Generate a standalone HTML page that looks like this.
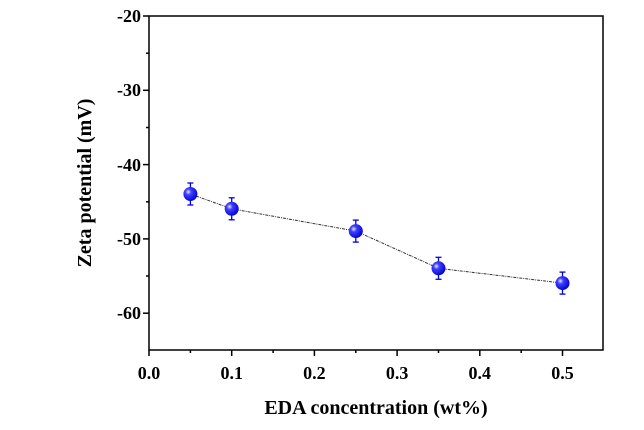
<!DOCTYPE html>
<html><head><style>body{margin:0;background:#fff}svg{display:block}text{font-family:"Liberation Serif",serif;font-weight:bold;fill:#000}</style></head>
<body>
<svg width="644" height="430" viewBox="0 0 644 430">
<defs><radialGradient id="g" cx="0.35" cy="0.35" r="0.7"><stop offset="0" stop-color="#e8e8ff"/><stop offset="0.3" stop-color="#4040ff"/><stop offset="1" stop-color="#0000d0"/></radialGradient></defs>
<rect x="149" y="16" width="454" height="334" fill="none" stroke="#000" stroke-width="1.5"/>
<g stroke="#000" stroke-width="1.5">
<line x1="149" y1="350" x2="149" y2="356"/><line x1="231.7" y1="350" x2="231.7" y2="356"/><line x1="314.4" y1="350" x2="314.4" y2="356"/><line x1="397.1" y1="350" x2="397.1" y2="356"/><line x1="479.8" y1="350" x2="479.8" y2="356"/><line x1="562.5" y1="350" x2="562.5" y2="356"/>
<line x1="190.4" y1="350" x2="190.4" y2="353"/><line x1="273.1" y1="350" x2="273.1" y2="353"/><line x1="355.8" y1="350" x2="355.8" y2="353"/><line x1="438.5" y1="350" x2="438.5" y2="353"/><line x1="521.2" y1="350" x2="521.2" y2="353"/>
<line x1="143" y1="16" x2="149" y2="16"/><line x1="143" y1="90.3" x2="149" y2="90.3"/><line x1="143" y1="164.6" x2="149" y2="164.6"/><line x1="143" y1="238.9" x2="149" y2="238.9"/><line x1="143" y1="313.2" x2="149" y2="313.2"/>
<line x1="146" y1="53.2" x2="149" y2="53.2"/><line x1="146" y1="127.5" x2="149" y2="127.5"/><line x1="146" y1="201.8" x2="149" y2="201.8"/><line x1="146" y1="276" x2="149" y2="276"/>
</g>
<g font-size="18" text-anchor="end">
<text x="141" y="22">-20</text><text x="141" y="96">-30</text><text x="141" y="171">-40</text><text x="141" y="245">-50</text><text x="141" y="319">-60</text>
</g>
<g font-size="18" text-anchor="middle">
<text x="149" y="379">0.0</text><text x="231.7" y="379">0.1</text><text x="314.4" y="379">0.2</text><text x="397.1" y="379">0.3</text><text x="479.8" y="379">0.4</text><text x="562.5" y="379">0.5</text>
</g>
<text x="376" y="414" font-size="20" text-anchor="middle">EDA concentration (wt%)</text>
<text transform="translate(91,183) rotate(-90)" font-size="20" text-anchor="middle">Zeta potential (mV)</text>
<polyline points="190.4,194 231.7,208.8 355.8,231.1 438.5,268.3 562.5,283.1" fill="none" stroke="#333" stroke-width="1" stroke-dasharray="3,1,1,1"/>
<g stroke="#0000e0" stroke-width="1.3">
<line x1="190.4" y1="183" x2="190.4" y2="205"/><line x1="187.4" y1="183" x2="193.4" y2="183"/><line x1="187.4" y1="205" x2="193.4" y2="205"/>
<line x1="231.7" y1="197.8" x2="231.7" y2="219.8"/><line x1="228.7" y1="197.8" x2="234.7" y2="197.8"/><line x1="228.7" y1="219.8" x2="234.7" y2="219.8"/>
<line x1="355.8" y1="220.1" x2="355.8" y2="242.1"/><line x1="352.8" y1="220.1" x2="358.8" y2="220.1"/><line x1="352.8" y1="242.1" x2="358.8" y2="242.1"/>
<line x1="438.5" y1="257.3" x2="438.5" y2="279.3"/><line x1="435.5" y1="257.3" x2="441.5" y2="257.3"/><line x1="435.5" y1="279.3" x2="441.5" y2="279.3"/>
<line x1="562.5" y1="272.1" x2="562.5" y2="294.1"/><line x1="559.5" y1="272.1" x2="565.5" y2="272.1"/><line x1="559.5" y1="294.1" x2="565.5" y2="294.1"/>
</g>
<g fill="url(#g)">
<circle cx="190.4" cy="194" r="7"/><circle cx="231.7" cy="208.8" r="7"/><circle cx="355.8" cy="231.1" r="7"/><circle cx="438.5" cy="268.3" r="7"/><circle cx="562.5" cy="283.1" r="7"/>
</g>
</svg>
</body></html>
